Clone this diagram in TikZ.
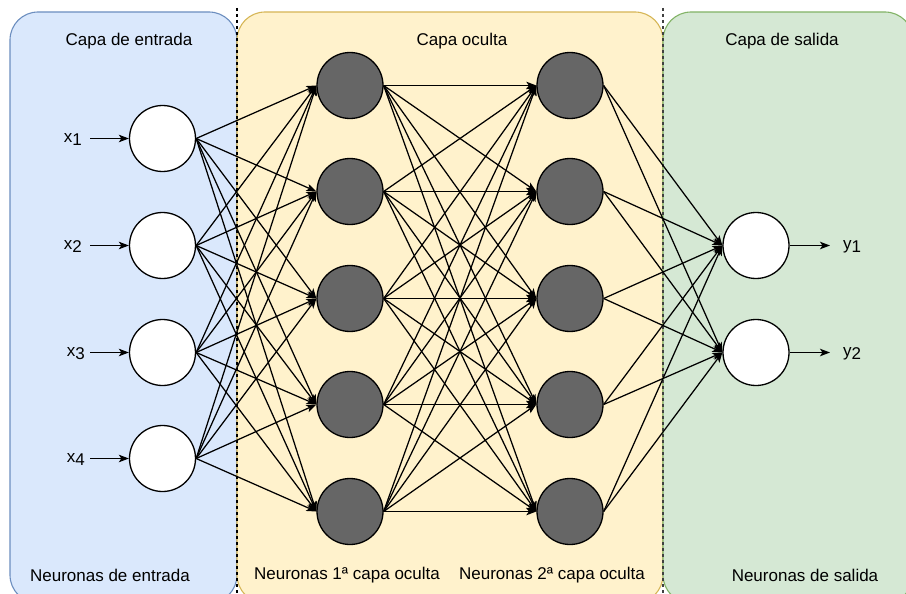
\documentclass[tikz,border=0pt]{standalone}
\usepackage{fontspec}
\setmainfont{Liberation Sans}
\usetikzlibrary{arrows.meta}
\definecolor{bluefill}{HTML}{DAE8FC}
\definecolor{bluedraw}{HTML}{6C8EBF}
\definecolor{yelfill}{HTML}{FFF2CC}
\definecolor{yeldraw}{HTML}{D6B656}
\definecolor{grnfill}{HTML}{D5E8D4}
\definecolor{grndraw}{HTML}{82B366}
\definecolor{darkneuron}{HTML}{666666}
\begin{document}
\begin{tikzpicture}[x=1pt,y=-1pt,
  panel/.style={rounded corners=28pt, line width=1.1pt},
  neuron/.style={circle, draw=black, line width=1.3pt, minimum size=66pt, inner sep=0pt},
  inneuron/.style={neuron, fill=white},
  hidneuron/.style={neuron, fill=darkneuron},
  conn/.style={line width=1.25pt, -{Stealth[length=10pt,width=7.5pt,inset=2.5pt]}},
  sep/.style={line width=1.2pt, dash pattern=on 3pt off 3pt},
  lbl/.style={font=\fontsize{17}{20}\selectfont, inner sep=0pt},
]
\useasboundingbox (0,0) rectangle (906,594);
% panels
\draw[panel, fill=bluefill, draw=bluedraw] (10,12) rectangle (237,603);
\draw[panel, fill=yelfill, draw=yeldraw] (237,12) rectangle (663,603);
\draw[panel, fill=grnfill, draw=grndraw] (663,12) rectangle (913,603);
% separators
\coordinate (s1a) at (237,8); \coordinate (s1b) at (237,600);
\coordinate (s2a) at (663,8); \coordinate (s2b) at (663,600);
\draw[sep] (s1a) -- (s1b);
\draw[sep, black!75] (s2a) -- (s2b);
% titles
\node[lbl] (t1) at (129,41) {Capa de entrada};
\node[lbl] (t2) at (462,41) {Capa oculta};
\node[lbl] (t3) at (782,41) {Capa de salida};
\node[lbl] (b1) at (110,575) {Neuronas de entrada};
\node[lbl] (b2) at (347,575) {Neuronas 1ª capa oculta};
\node[lbl] (b3) at (552,575) {Neuronas 2ª capa oculta};
\node[lbl] (b4) at (805,575) {Neuronas de salida};
% neurons
\node[inneuron] (in1) at (162.5,138.5) {};
\node[inneuron] (in2) at (162.5,245.5) {};
\node[inneuron] (in3) at (162.5,352.5) {};
\node[inneuron] (in4) at (162.5,458.5) {};
\node[hidneuron] (ha1) at (350,85.5) {};
\node[hidneuron] (ha2) at (350,191.5) {};
\node[hidneuron] (ha3) at (350,298.5) {};
\node[hidneuron] (ha4) at (350,404.5) {};
\node[hidneuron] (ha5) at (350,511.5) {};
\node[hidneuron] (hb1) at (570,85.5) {};
\node[hidneuron] (hb2) at (570,191.5) {};
\node[hidneuron] (hb3) at (570,298.5) {};
\node[hidneuron] (hb4) at (570,404.5) {};
\node[hidneuron] (hb5) at (570,511.5) {};
\node[inneuron] (out1) at (756,245.5) {};
\node[inneuron] (out2) at (756,352.5) {};
% connections
\foreach \i in {1,...,4}{\foreach \j in {1,...,5}{\draw[conn] (in\i.east) -- (ha\j.west);}}
\foreach \i in {1,...,5}{\foreach \j in {1,...,5}{\draw[conn] (ha\i.east) -- (hb\j.west);}}
\foreach \i in {1,...,5}{\foreach \j in {1,2}{\draw[conn] (hb\i.east) -- (out\j.west);}}
% inputs
\foreach \i/\yy in {1/138.5,2/245.5,3/352.5,4/458.5}{
  \coordinate (ax\i) at (90,\yy);
  \draw[conn] (ax\i) -- (in\i.west);
}
\node[lbl, anchor=east] (lx1) at (82,140) {x\raisebox{-3pt}{1}};
\node[lbl, anchor=east] (lx2) at (82,247) {x\raisebox{-3pt}{2}};
\node[lbl, anchor=east] (lx3) at (85,354) {x\raisebox{-3pt}{3}};
\node[lbl, anchor=east] (lx4) at (85,460) {x\raisebox{-3pt}{4}};
% outputs
\coordinate (ay1) at (830,245.5);
\coordinate (ay2) at (830,352.5);
\draw[conn] (out1.east) -- (ay1);
\draw[conn] (out2.east) -- (ay2);
\node[lbl, anchor=west] (ly1) at (843,247) {y\raisebox{-3pt}{1}};
\node[lbl, anchor=west] (ly2) at (843,354) {y\raisebox{-3pt}{2}};
\end{tikzpicture}
\end{document}
